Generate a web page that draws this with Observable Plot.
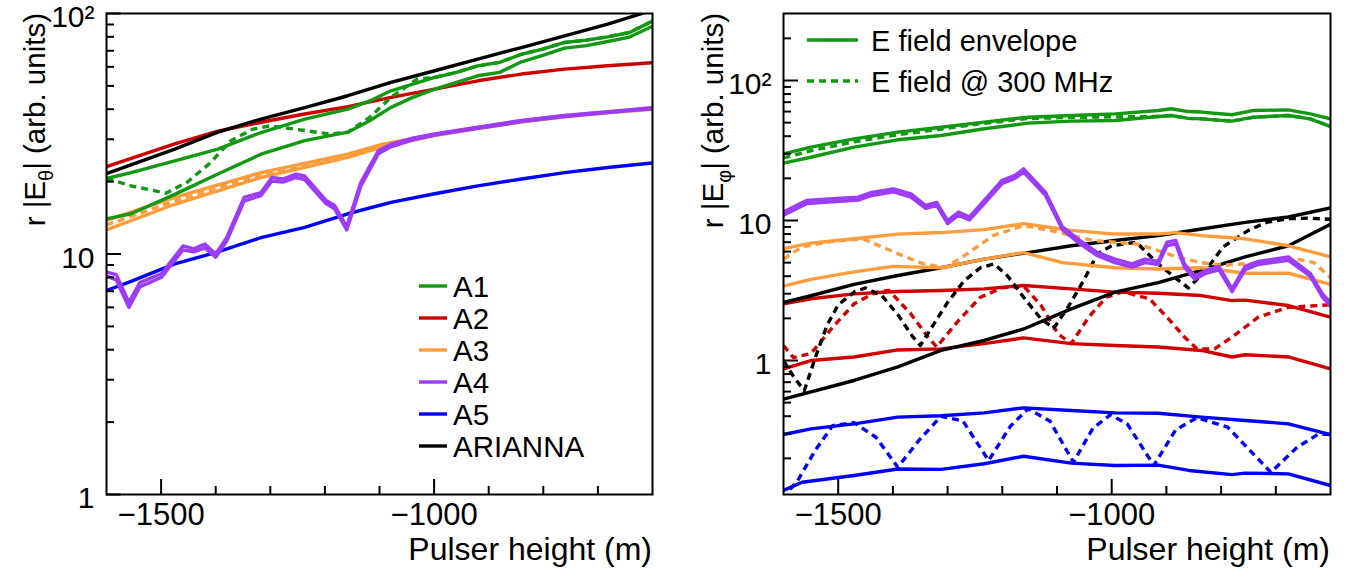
<!DOCTYPE html>
<html><head><meta charset="utf-8">
<script src="https://cdn.jsdelivr.net/npm/d3@7"></script>
<script src="https://cdn.jsdelivr.net/npm/@observablehq/plot@0.6"></script>
<style>
html,body{margin:0;padding:0;background:#fff;}
#wrap{position:relative;width:1361px;height:573px;overflow:hidden;background:#fff;}
#left{position:absolute;left:0;top:0;}
#right{position:absolute;left:680px;top:0;}
</style></head><body><div id="wrap"><div id="left"></div><div id="right"></div></div>
<script>
// ---------- ticks / labels ----------
const xMajorTicks = [-1500, -1000];
const xMinorTicks = [-1400, -1300, -1200, -1100, -900, -800, -700];
const yMajorTicks = [1, 10, 100];
const yMinorTicksL = [2,3,4,5,6,7,8,9,20,30,40,50,60,70,80,90];
const yMinorTicksR = [0.2,0.3,0.4,0.5,0.6,0.7,0.8,0.9,2,3,4,5,6,7,8,9,20,30,40,50,60,70,80,90,200];
const antennas = ["A1","A2","A3","A4","A5","ARIANNA"];
const legendRight = ["E field envelope","E field @ 300 MHz"];
const xTitle = "Pulser height (m)";

// ---------- left panel: r|E_theta| ----------
const thetaA1Env1 = [[-1600,20.6],[-1555,21.8],[-1475,24.4],[-1396,27.3],[-1317,32.0],[-1237,36.4],[-1158,40.0],[-1118,43.3],[-1079,47.7],[-1039,50.8],[-999,54.2],[-959,56.9],[-920,60.6],[-880,62.6],[-840,67.7],[-801,71.1],[-761,75.8],[-721,77.5],[-682,80.0],[-642,83.4],[-600,93.0]];
const thetaA1Env2 = [[-1600,14.0],[-1555,14.7],[-1475,17.7],[-1396,21.5],[-1317,26.0],[-1237,29.6],[-1158,32.1],[-1118,35.8],[-1079,40.7],[-1039,44.8],[-999,48.5],[-959,51.7],[-920,55.1],[-880,56.9],[-840,63.0],[-801,67.0],[-761,71.8],[-721,73.5],[-682,76.5],[-642,79.8],[-600,88.5]];
const thetaA1At300 = [[-1600,20.6],[-1555,19.2],[-1491,17.9],[-1452,19.9],[-1412,23.7],[-1372,29.6],[-1333,33.0],[-1301,34.1],[-1253,33.0],[-1190,31.5],[-1158,32.1],[-1118,37.0],[-1079,44.8],[-1031,53.4],[-999,54.2],[-959,56.9],[-920,60.6],[-880,62.6],[-840,67.7],[-801,71.1],[-761,75.8],[-721,77.5],[-682,80.0],[-642,83.4],[-600,93.0]];
const thetaA2 = [[-1600,23.1],[-1475,28.7],[-1396,32.4],[-1317,35.3],[-1237,38.2],[-1158,41.0],[-1079,44.8],[-999,48.5],[-920,52.5],[-840,56.0],[-761,58.7],[-682,60.6],[-600,62.4]];
const thetaA3Env1 = [[-1600,13.8],[-1475,17.2],[-1317,21.8],[-1158,26.0],[-1094,28.6],[-999,31.5],[-920,33.6],[-840,35.8],[-761,37.6],[-682,39.0],[-600,40.4]];
const thetaA3Env2 = [[-1600,12.6],[-1475,16.1],[-1317,20.8],[-1158,25.2],[-1094,27.9],[-999,31.1],[-920,33.2],[-840,35.4],[-761,37.2],[-682,38.6],[-600,40.0]];
const thetaA3At300 = [[-1600,13.2],[-1475,16.6],[-1317,21.3],[-1158,25.6],[-1094,28.2],[-999,31.3],[-920,33.4],[-840,35.6],[-761,37.4],[-682,38.8],[-600,40.2]];
const thetaA4Env1 = [[-1600,8.4],[-1582,8.2],[-1559,6.3],[-1539,7.6],[-1499,8.3],[-1460,10.8],[-1440,10.5],[-1420,11.0],[-1400,10.0],[-1380,11.7],[-1348,17.2],[-1317,18.0],[-1297,20.8],[-1277,20.5],[-1253,21.5],[-1237,21.1],[-1198,16.7],[-1182,15.9],[-1160,13.0],[-1134,19.9],[-1102,26.9],[-1079,28.6],[-1039,30.3],[-999,31.6],[-920,33.7],[-840,35.9],[-761,37.7],[-682,39.1],[-600,40.6]];
const thetaA4Env2 = [[-1600,8.1],[-1582,7.8],[-1559,6.0],[-1539,7.3],[-1499,8.0],[-1460,10.4],[-1440,10.2],[-1420,10.6],[-1400,9.7],[-1380,11.3],[-1348,16.6],[-1317,17.5],[-1297,20.1],[-1277,19.9],[-1253,20.8],[-1237,20.4],[-1198,16.2],[-1182,15.4],[-1160,12.6],[-1134,19.2],[-1102,26.1],[-1079,27.9],[-1039,29.8],[-999,31.2],[-920,33.3],[-840,35.5],[-761,37.3],[-682,38.7],[-600,40.2]];
const thetaA5 = [[-1600,7.05],[-1555,7.7],[-1475,9.1],[-1396,10.2],[-1317,11.7],[-1237,12.9],[-1158,14.7],[-1079,16.4],[-999,17.8],[-920,19.2],[-840,20.5],[-761,21.8],[-682,22.9],[-600,23.9]];
const thetaARIANNA = [[-1600,21.6],[-1475,27.3],[-1396,32.1],[-1317,36.4],[-1237,40.6],[-1158,45.5],[-1079,51.7],[-999,57.8],[-920,64.6],[-840,72.2],[-761,80.7],[-682,90.3],[-619,100],[-600,103.5]];

// ---------- right panel: r|E_phi| ----------
const phiA1Env1 = [[-1600,29.9],[-1550,33.4],[-1471,38.3],[-1391,42.8],[-1312,46.4],[-1233,50.4],[-1153,54.7],[-1074,56.2],[-994,57.8],[-915,61.1],[-891,62.8],[-860,60.0],[-836,59.5],[-780,56.9],[-740,61.1],[-677,61.7],[-637,57.8],[-600,53.2]];
const phiA1Env2 = [[-1600,25.7],[-1550,28.3],[-1471,33.4],[-1391,37.7],[-1312,40.5],[-1233,45.2],[-1153,49.6],[-1074,51.3],[-994,51.8],[-915,55.3],[-891,56.2],[-860,53.6],[-836,53.2],[-780,51.3],[-740,54.7],[-677,56.2],[-637,53.2],[-600,46.9]];
const phiA1At300 = [[-1600,28.0],[-1550,31.5],[-1471,36.5],[-1391,41.0],[-1312,45.0],[-1233,49.5],[-1153,53.5],[-1074,54.5],[-994,55.0],[-915,55.3],[-891,56.2],[-860,53.6],[-836,53.2],[-780,51.3],[-740,54.7],[-677,56.2],[-637,53.2],[-600,46.9]];
const phiA2Env1 = [[-1600,2.54],[-1550,2.76],[-1471,2.99],[-1391,3.11],[-1312,3.16],[-1233,3.25],[-1161,3.43],[-1074,3.25],[-994,3.08],[-915,3.02],[-836,2.91],[-780,2.68],[-756,2.7],[-677,2.47],[-600,2.04]];
const phiA2Env2 = [[-1600,0.87],[-1550,1.0],[-1471,1.06],[-1391,1.19],[-1312,1.21],[-1233,1.32],[-1161,1.45],[-1074,1.32],[-994,1.28],[-915,1.25],[-836,1.18],[-780,1.06],[-756,1.1],[-677,1.06],[-600,0.87]];
const phiA2At300 = [[-1600,1.28],[-1582,1.05],[-1550,1.12],[-1510,1.73],[-1471,2.54],[-1431,3.07],[-1407,3.16],[-1367,2.15],[-1336,1.47],[-1320,1.25],[-1280,1.93],[-1240,2.83],[-1201,3.3],[-1161,3.4],[-1129,2.47],[-1098,1.55],[-1074,1.32],[-1042,2.04],[-1010,2.83],[-979,3.1],[-931,2.76],[-899,2.04],[-867,1.47],[-844,1.21],[-812,1.21],[-780,1.47],[-732,2.04],[-677,2.4],[-600,2.5]];
const phiA3Env1 = [[-1600,6.3],[-1550,6.9],[-1471,7.4],[-1391,8.0],[-1312,8.2],[-1233,8.6],[-1161,9.5],[-1074,8.5],[-994,8.0],[-915,8.0],[-883,8.2],[-836,7.8],[-756,7.4],[-677,6.6],[-600,5.5]];
const phiA3Env2 = [[-1600,3.4],[-1550,3.8],[-1471,4.3],[-1399,4.7],[-1312,4.6],[-1233,5.3],[-1161,5.9],[-1090,5.0],[-994,4.6],[-915,4.5],[-836,4.6],[-756,4.2],[-677,4.2],[-600,3.5]];
const phiA3At300 = [[-1600,5.3],[-1566,6.5],[-1510,7.1],[-1455,7.4],[-1391,5.8],[-1344,4.9],[-1304,4.6],[-1264,5.8],[-1217,7.8],[-1161,9.2],[-1113,8.5],[-1034,7.2],[-955,6.8],[-915,6.1],[-875,5.4],[-836,5.0],[-796,4.8],[-756,4.9],[-717,5.0],[-661,5.3],[-630,5.0],[-600,3.9]];
const phiA4Env1 = [[-1600,11.5],[-1558,13.9],[-1510,14.3],[-1463,14.7],[-1439,15.9],[-1399,16.8],[-1367,15.5],[-1340,12.8],[-1320,13.5],[-1300,10.0],[-1280,11.5],[-1260,10.6],[-1233,13.9],[-1201,19.3],[-1177,21.0],[-1161,23.4],[-1121,15.9],[-1090,9.0],[-1058,7.2],[-1026,5.9],[-994,5.3],[-963,4.9],[-939,5.3],[-915,5.1],[-899,7.0],[-883,7.2],[-867,4.9],[-848,4.0],[-828,4.4],[-804,4.7],[-780,3.25],[-756,4.7],[-732,5.1],[-677,5.5],[-637,4.2],[-615,3.0],[-600,2.6]];
const phiA4Env2 = [[-1600,10.9],[-1558,13.2],[-1510,13.6],[-1463,14.0],[-1439,15.1],[-1399,16.0],[-1367,14.7],[-1340,12.2],[-1320,12.8],[-1300,9.5],[-1280,10.9],[-1260,10.1],[-1233,13.2],[-1201,18.3],[-1177,20.0],[-1161,22.2],[-1121,15.1],[-1090,8.6],[-1058,6.8],[-1026,5.6],[-994,5.0],[-963,4.65],[-939,5.0],[-915,4.85],[-899,6.6],[-883,6.8],[-867,4.65],[-848,3.8],[-828,4.2],[-804,4.45],[-780,3.1],[-756,4.45],[-732,4.85],[-677,5.2],[-637,4.0],[-615,2.85],[-600,2.45]];
const phiA5Env1 = [[-1600,0.296],[-1550,0.325],[-1471,0.353],[-1391,0.394],[-1312,0.403],[-1233,0.423],[-1161,0.459],[-1074,0.44],[-994,0.423],[-915,0.42],[-836,0.394],[-756,0.373],[-677,0.353],[-600,0.296]];
const phiA5Env2 = [[-1600,0.118],[-1566,0.135],[-1471,0.151],[-1391,0.168],[-1312,0.167],[-1233,0.183],[-1161,0.207],[-1074,0.185],[-994,0.178],[-915,0.179],[-859,0.164],[-780,0.153],[-756,0.157],[-677,0.155],[-600,0.128]];
const phiA5At300 = [[-1588,0.12],[-1574,0.139],[-1542,0.228],[-1510,0.343],[-1471,0.36],[-1431,0.283],[-1391,0.173],[-1352,0.27],[-1312,0.40],[-1272,0.37],[-1225,0.193],[-1185,0.34],[-1153,0.452],[-1113,0.37],[-1070,0.188],[-1034,0.33],[-1002,0.41],[-971,0.35],[-923,0.178],[-883,0.32],[-844,0.39],[-788,0.334],[-709,0.159],[-661,0.24],[-621,0.30],[-600,0.296]];
const phiARIANNAEnv1 = [[-1600,2.6],[-1550,2.9],[-1471,3.5],[-1391,4.05],[-1312,4.6],[-1233,5.3],[-1153,5.9],[-1074,6.6],[-994,7.2],[-915,7.8],[-836,8.7],[-756,9.7],[-677,10.6],[-600,12.3]];
const phiARIANNAEnv2 = [[-1600,0.53],[-1471,0.72],[-1391,0.90],[-1312,1.18],[-1233,1.39],[-1161,1.68],[-1074,2.34],[-994,3.08],[-915,3.6],[-836,4.4],[-756,5.5],[-677,6.6],[-600,9.4]];
const phiARIANNAAt300 = [[-1600,1.0],[-1580,0.75],[-1562,0.61],[-1540,1.1],[-1520,1.8],[-1500,2.5],[-1470,3.1],[-1450,3.3],[-1420,2.9],[-1390,2.1],[-1365,1.5],[-1350,1.28],[-1330,1.7],[-1300,2.6],[-1270,3.7],[-1240,4.6],[-1215,4.9],[-1190,4.0],[-1160,2.8],[-1130,2.0],[-1106,1.7],[-1080,2.4],[-1050,3.8],[-1026,5.8],[-1000,6.6],[-955,7.0],[-915,4.9],[-880,3.8],[-860,3.3],[-830,4.3],[-796,6.5],[-750,8.5],[-717,9.7],[-680,10.3],[-640,10.4],[-600,10.2]];

// ---------- styling ----------
const FONT = '"Liberation Sans", Arial, Helvetica, sans-serif';
const COLORS = {A1:"#129812", A2:"#cf0000", A3:"#ff9c3c", A4:"#9d3cf8", A5:"#0000ff", ARIANNA:"#000000"};
const H = 573, MT = 13, MB = 79, LW = 3.4;

const leftSeries = [
  {pts: thetaA5, id:"A5"},
  {pts: thetaA3Env1, id:"A3"}, {pts: thetaA3Env2, id:"A3"}, {pts: thetaA3At300, id:"A3", dash:true},
  {pts: thetaA4Env1, id:"A4"}, {pts: thetaA4Env2, id:"A4"},
  {pts: thetaA2, id:"A2"},
  {pts: thetaA1Env1, id:"A1"}, {pts: thetaA1Env2, id:"A1"}, {pts: thetaA1At300, id:"A1", dash:true},
  {pts: thetaARIANNA, id:"ARIANNA"}
];
const rightSeries = [
  {pts: phiA5Env1, id:"A5"}, {pts: phiA5Env2, id:"A5"}, {pts: phiA5At300, id:"A5", dash:true},
  {pts: phiA2Env1, id:"A2"}, {pts: phiA2Env2, id:"A2"}, {pts: phiA2At300, id:"A2", dash:true},
  {pts: phiARIANNAAt300, id:"ARIANNA", dash:true},
  {pts: phiARIANNAEnv1, id:"ARIANNA"}, {pts: phiARIANNAEnv2, id:"ARIANNA"},
  {pts: phiA3Env1, id:"A3"}, {pts: phiA3Env2, id:"A3"}, {pts: phiA3At300, id:"A3", dash:true},
  {pts: phiA4Env1, id:"A4"}, {pts: phiA4Env2, id:"A4"},
  {pts: phiA1Env1, id:"A1"}, {pts: phiA1Env2, id:"A1"}, {pts: phiA1At300, id:"A1", dash:true}
];

function panel({width, marginLeft, marginRight, yDomain, yMinor, series}) {
  const innerW = width - marginLeft - marginRight;
  const innerH = H - MT - MB;
  const marks = [];
  for (const s of series) {
    const o = {x: d => d[0], y: d => d[1], stroke: COLORS[s.id], strokeWidth: LW, clip: true, curve: "linear", strokeLinejoin: "round"};
    if (s.dash) { o.strokeDasharray = "7,5"; o.strokeLinecap = "butt"; }
    marks.push(Plot.line(s.pts, o));
  }
  marks.push(Plot.ruleX(xMajorTicks, {x: d => d, insetTop: innerH - 15, strokeWidth: 2}));
  marks.push(Plot.ruleX(xMinorTicks, {x: d => d, insetTop: innerH - 8, strokeWidth: 2}));
  marks.push(Plot.ruleY(yMajorTicks, {y: d => d, insetRight: innerW - 15, strokeWidth: 2}));
  marks.push(Plot.ruleY(yMinor, {y: d => d, insetRight: innerW - 8, strokeWidth: 2}));
  marks.push(Plot.frame({stroke: "black", strokeWidth: 2}));
  marks.push(Plot.axisX({ticks: xMajorTicks, tickSize: 0, tickPadding: 8, fontSize: 31, label: null,
    tickFormat: d => "\u2212" + Math.abs(d)}));
  marks.push(Plot.axisY({ticks: yMajorTicks, tickSize: 0, tickPadding: 12, fontSize: 30, label: null, dy: 4,
    tickFormat: d => d === 100 ? "10\u00b2" : String(d)}));
  return Plot.plot({
    width, height: H, marginLeft, marginRight, marginTop: MT, marginBottom: MB,
    x: {domain: [-1600, -600]},
    y: {type: "log", domain: yDomain},
    style: {fontFamily: FONT, background: "white", color: "black", overflow: "visible"},
    marks
  });
}

function addTitles(svg, xTitleRight, yTitleX, sym) {
  const g = d3.select(svg);
  g.append("text").attr("x", xTitleRight).attr("y", 560).attr("text-anchor", "end")
    .attr("font-family", FONT).attr("font-size", 32).attr("fill", "black").text(xTitle);
  const t = g.append("text").attr("transform", `translate(${yTitleX},${MT}) rotate(-90)`)
    .attr("text-anchor", "end").attr("font-family", FONT).attr("font-size", 29.5).attr("fill", "black");
  t.append("tspan").text("r |E");
  t.append("tspan").attr("font-size", 20).attr("dy", 8).text(sym);
  t.append("tspan").attr("dy", -8).text("| (arb. units)");
}

const leftSvg = panel({width: 680, marginLeft: 106, marginRight: 28, yDomain: [1, 100], yMinor: yMinorTicksL, series: leftSeries});
const rightSvg = panel({width: 681, marginLeft: 103, marginRight: 31, yDomain: [0.1104, 301], yMinor: yMinorTicksR, series: rightSeries});
document.getElementById("left").appendChild(leftSvg);
document.getElementById("right").appendChild(rightSvg);

addTitles(leftSvg, 652, 45, "\u03b8");
addTitles(rightSvg, 650, 43, "\u03c6");

// left legend
{
  const g = d3.select(leftSvg).append("g").attr("text-anchor", "start");
  antennas.forEach((name, i) => {
    const y = 286 + i * 32;
    g.append("line").attr("x1", 419).attr("x2", 447).attr("y1", y).attr("y2", y)
      .attr("stroke", COLORS[name]).attr("stroke-width", LW);
    g.append("text").attr("x", 453).attr("y", y + 10.5).attr("text-anchor", "start").attr("font-family", FONT)
      .attr("font-size", 29.5).attr("fill", "black").text(name);
  });
}
// right legend
{
  const g = d3.select(rightSvg).append("g").attr("text-anchor", "start");
  legendRight.forEach((name, i) => {
    const y = 40 + i * 41;
    const ln = g.append("line").attr("x1", 127).attr("x2", 178).attr("y1", y).attr("y2", y)
      .attr("stroke", COLORS.A1).attr("stroke-width", LW);
    if (i === 1) ln.attr("stroke-dasharray", "7,5");
    g.append("text").attr("x", 191).attr("y", y + 10.5).attr("text-anchor", "start").attr("font-family", FONT)
      .attr("font-size", 29).attr("fill", "black").text(name);
  });
}
</script></body></html>
